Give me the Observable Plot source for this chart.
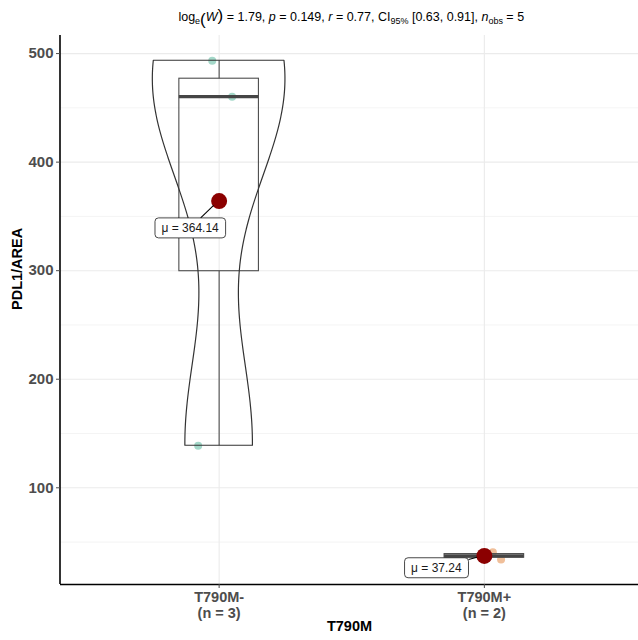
<!DOCTYPE html>
<html><head><meta charset="utf-8">
<script src="https://cdn.jsdelivr.net/npm/d3@7"></script>
<script src="https://cdn.jsdelivr.net/npm/@observablehq/plot@0.6"></script>
<style>
body{margin:0;background:#fff;}
#chart{position:relative;width:638px;height:640px;overflow:hidden;background:#fff;}
</style></head><body><div id="chart"></div>
<script>
// ---- data ----
const categories = ["T790M-", "T790M+"];
const groups = ["T790M-", "T790M-", "T790M-", "T790M+", "T790M+"];
const values = [493.4, 460.3, 138.72, 40.6, 33.88];
const jitter = [-0.026, 0.049, -0.079, 0.032, 0.063];
const pointColors = ["#1B9E77", "#D95F02"];
const yTicks = [100, 200, 300, 400, 500];
const yMinor = [50, 150, 250, 350, 450];
const statLogW = 1.79, statP = 0.149, statR = 0.77, ciLow = 0.63, ciHigh = 0.91;
const xTitle = "T790M", yTitle = "PDL1/AREA";

// ---- layout / style ----
const FONT = "Liberation Sans, Arial, Helvetica, sans-serif";
const labelNudge = [[-29, 27], [-48, 12]];

// ---- derived ----
const points = values.map((v, i) => ({group: groups[i], value: v, pos: categories.indexOf(groups[i]) + 1, jit: jitter[i]}));
const stats = categories.map((g, i) => {
  const v = values.filter((_, j) => groups[j] === g).sort(d3.ascending);
  return {group: g, pos: i + 1, n: v.length, min: v[0], max: v[v.length - 1],
    q1: d3.quantile(v, 0.25), median: d3.quantile(v, 0.5), q3: d3.quantile(v, 0.75),
    mean: d3.mean(v), v};
});
function kde(s) {
  const v = s.v, n = v.length;
  const iqr = s.q3 - s.q1;
  const bw = 0.9 * Math.min(d3.deviation(v), iqr / 1.34) * Math.pow(n, -0.2);
  const pts = d3.range(512).map(k => {
    const y = s.min + (s.max - s.min) * k / 511;
    return {y, d: d3.sum(v, x => Math.exp(-0.5 * ((y - x) / bw) ** 2))};
  });
  const m = d3.max(pts, p => p.d);
  return pts.map(p => ({group: s.group, y: p.y, x1: s.pos - 0.25 * p.d / m, x2: s.pos + 0.25 * p.d / m}));
}
const violin = stats.filter(s => s.n >= 3).flatMap(kde);
const allMin = d3.min(values), allMax = d3.max(values), span = allMax - allMin;
const yLo = allMin - 0.05 * span, yHi = allMax + 0.05 * span;
const meanText = s => `μ = ${s.mean.toFixed(2)}`;

const labelMark = (s, k) => Plot.text([s], {x: "pos", y: "mean", text: meanText,
  dx: labelNudge[k][0], dy: labelNudge[k][1], fontSize: 12, fill: "#1a1a1a", fontFamily: FONT});

const plot = Plot.plot({
  width: 638, height: 640,
  marginLeft: 60, marginRight: 0, marginTop: 35, marginBottom: 56,
  style: {fontFamily: FONT, background: "white", overflow: "visible"},
  x: {type: "linear", domain: [0.4, 2.6], range: [59.5, 643], axis: null},
  y: {domain: [yLo, yHi], range: [584, 35.3], axis: null},
  marks: [
    Plot.ruleY(yMinor, {stroke: "#efefef", strokeWidth: 0.7}),
    Plot.ruleY(yTicks, {stroke: "#ebebeb", strokeWidth: 1.1}),
    Plot.ruleX([1, 2], {stroke: "#ebebeb", strokeWidth: 1.1}),
    Plot.dot(points, {x: d => d.pos + d.jit, y: "value", r: 4, fill: d => pointColors[d.pos - 1], fillOpacity: 0.4, stroke: "none"}),
    Plot.ruleX(stats, {x: "pos", y1: "min", y2: "q1", stroke: "#4d4d4d", strokeWidth: 1.1}),
    Plot.ruleX(stats, {x: "pos", y1: "q3", y2: "max", stroke: "#4d4d4d", strokeWidth: 1.1}),
    Plot.rect(stats, {x1: d => d.pos - 0.15, x2: d => d.pos + 0.15, y1: "q1", y2: "q3", fill: "none", stroke: "#4d4d4d", strokeWidth: 1.1}),
    Plot.ruleY(stats, {y: "median", x1: d => d.pos - 0.15, x2: d => d.pos + 0.15, stroke: "#454545", strokeWidth: 3.4}),
    Plot.areaX(violin, {y: "y", x1: "x1", x2: "x2", z: "group", fill: "none", stroke: "#333333", strokeWidth: 1.2, curve: "linear"}),
    Plot.dot(stats, {x: "pos", y: "mean", r: 8, fill: "#8B0000", stroke: "none"}),
    ...stats.map(labelMark),
    Plot.ruleX([0.4], {stroke: "black", strokeWidth: 1.6}),
    Plot.ruleY([yLo], {stroke: "black", strokeWidth: 1.6}),
    Plot.axisY(yTicks, {tickSize: 4, tickPadding: 3, fontSize: 15, fontWeight: "bold", color: "#4d4d4d", label: null, fontFamily: FONT}),
    Plot.axisX([1, 2], {tickSize: 4, tickPadding: 3, fontSize: 14.5, fontWeight: "bold", color: "#4d4d4d", label: null, lineHeight: 1.05,
      tickFormat: d => `${categories[d - 1]}\n(n = ${stats[d - 1].n})`, fontFamily: FONT}),
    Plot.text([yTitle], {frameAnchor: "left", rotate: -90, dx: -43, fontSize: 14.5, fontWeight: "bold", fill: "black", fontFamily: FONT}),
    Plot.text([xTitle], {frameAnchor: "bottom", dy: 46, fontSize: 14.5, fontWeight: "bold", fill: "black", fontFamily: FONT})
  ]
});
document.getElementById("chart").append(plot);

// ---- labels: rounded boxes + connector segments ----
const NS = "http://www.w3.org/2000/svg";
const svgNode = plot;
const svgRect = svgNode.getBoundingClientRect();
const sx = plot.scale("x"), sy = plot.scale("y");
stats.forEach(s => {
  const txt = Array.from(svgNode.querySelectorAll("text")).find(t => t.textContent === meanText(s));
  if (!txt) return;
  const r = txt.getBoundingClientRect();
  const padX = 6.5, padY = 3;
  const bx = r.left - svgRect.left - padX, by = r.top - svgRect.top - padY;
  const bw = r.width + 2 * padX, bh = r.height + 2 * padY;
  const cx = bx + bw / 2, cy = by + bh / 2;
  const px = sx.apply(s.pos), py = sy.apply(s.mean);
  const ddx = px - cx, ddy = py - cy;
  const t = Math.min((bw / 2) / Math.abs(ddx || 1e-9), (bh / 2) / Math.abs(ddy || 1e-9));
  const ex = cx + ddx * t, ey = cy + ddy * t;
  const len = Math.hypot(ddx, ddy);
  const sxp = px - ddx / len * 7, syp = py - ddy / len * 7;
  let top = txt;
  while (top.parentNode !== svgNode) top = top.parentNode;
  const g = document.createElementNS(NS, "g");
  const line = document.createElementNS(NS, "line");
  line.setAttribute("x1", sxp); line.setAttribute("y1", syp);
  line.setAttribute("x2", ex); line.setAttribute("y2", ey);
  line.setAttribute("stroke", "black"); line.setAttribute("stroke-width", 1.1);
  g.appendChild(line);
  const rect = document.createElementNS(NS, "rect");
  rect.setAttribute("x", bx); rect.setAttribute("y", by);
  rect.setAttribute("width", bw); rect.setAttribute("height", bh);
  rect.setAttribute("rx", 3.5); rect.setAttribute("ry", 3.5);
  rect.setAttribute("fill", "white"); rect.setAttribute("stroke", "#1a1a1a"); rect.setAttribute("stroke-width", 0.8);
  g.appendChild(rect);
  svgNode.insertBefore(g, top);
});

// ---- subtitle ----
const svg = d3.select(plot);
const sub = svg.append("text")
  .attr("x", (sx.apply(0.4) + sx.apply(2.6)) / 2).attr("y", 21)
  .attr("text-anchor", "middle").attr("font-size", 12.5).attr("fill", "black")
  .attr("font-family", FONT);
function part(str, opt = {}) {
  const ts = sub.append("tspan").text(str);
  if (opt.italic) ts.attr("font-style", "italic");
  if (opt.size) ts.attr("font-size", opt.size);
  if (opt.dy) ts.attr("dy", opt.dy);
  return ts;
}
part("log");
part("e", {size: 9, dy: 3});
part("(", {size: 17, dy: 0.5});
part("W", {italic: true, dy: -3.5});
part(")", {size: 17, dy: 0});
part(` = ${statLogW.toFixed(2)}, `);
part("p", {italic: true});
part(` = ${statP.toFixed(3)}, `);
part("r", {italic: true});
part(` = ${statR.toFixed(2)}, CI`);
part("95%", {size: 9, dy: 3});
part(` [${ciLow.toFixed(2)}, ${ciHigh.toFixed(2)}], `, {dy: -3});
part("n", {italic: true});
part("obs", {size: 9, dy: 3});
part(` = ${values.length}`, {dy: -3});
</script></body></html>
